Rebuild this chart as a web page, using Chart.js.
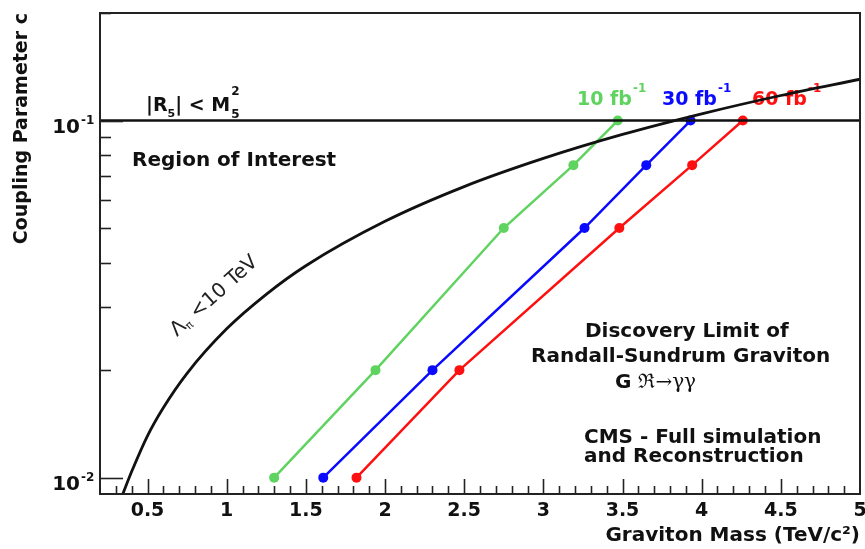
<!DOCTYPE html>
<html><head><meta charset="utf-8">
<script src="https://cdn.jsdelivr.net/npm/chart.js@4.4.1/dist/chart.umd.min.js"></script>
<style>html,body{margin:0;padding:0;background:#fff;} canvas{display:block;}</style>
</head><body>
<canvas id="c" width="865" height="549"></canvas>
<script>
// ---- data ----
const couplingPoints = [0.01, 0.02, 0.05, 0.075, 0.1];
const massGreen10 = [1.30, 1.94, 2.75, 3.19, 3.47];
const massBlue30  = [1.61, 2.30, 3.26, 3.65, 3.93];
const massRed60   = [1.82, 2.47, 3.48, 3.94, 4.26];
const lambdaMass     = [0.34, 0.4, 0.5, 0.6, 0.75, 1.0, 1.25, 1.5, 2.0, 2.5, 3.0, 3.5, 4.0, 4.5, 5.0];
const lambdaCoupling = [0.0089, 0.0104, 0.0131, 0.0157, 0.0196, 0.0261, 0.0326, 0.0392, 0.0522, 0.0653, 0.0783, 0.0914, 0.1044, 0.1175, 0.1305];
const boundMass     = [0.2, 5.0];
const boundCoupling = [0.1, 0.1];
const xTickValues = [0.5, 1, 1.5, 2, 2.5, 3, 3.5, 4, 4.5, 5];
const xTickLabels = ['0.5', '1', '1.5', '2', '2.5', '3', '3.5', '4', '4.5', '5'];
const yTickValues = [0.01, 0.1];
const yTickBase = ['10', '10'];
const yTickExp  = ['-2', '-1'];
const seriesLabels = ['10 fb', '30 fb', '60 fb'];

const FONT = '"DejaVu Sans", "Liberation Sans", sans-serif';
const GREEN = '#5fd35f', BLUE = '#0a0aff', RED = '#ff1010', INK = '#111';

function pts(xs, ys) { return xs.map((x, i) => ({x: x, y: ys[i]})); }

function seq(ctx, x, y, parts) {
  let cx = x;
  for (const p of parts) {
    ctx.font = p[1];
    ctx.fillText(p[0], cx, y + (p[2] || 0));
    cx += ctx.measureText(p[0]).width;
  }
  return cx;
}

const decorPlugin = {
  id: 'decor',
  beforeDatasetsDraw(chart) {
    const ctx = chart.ctx;
    ctx.save();
    ctx.textAlign = 'left';
    ctx.textBaseline = 'alphabetic';
    ctx.fillStyle = INK;
    let x = seq(ctx, 146, 111, [['|R', 'bold 19px ' + FONT], ['5', 'bold 11px ' + FONT, 6], ['| < M', 'bold 19px ' + FONT]]);
    ctx.font = 'bold 12px ' + FONT;
    ctx.fillText('2', x + 1, 95);
    ctx.fillText('5', x + 1, 118);
    ctx.font = 'bold 20px ' + FONT;
    ctx.fillText('Region of Interest', 132, 166);
    const cols = [GREEN, BLUE, RED];
    const xs = [577, 662, 752];
    for (let i = 0; i < 3; i++) {
      ctx.fillStyle = cols[i];
      const e = seq(ctx, xs[i], 105, [[seriesLabels[i], 'bold 19px ' + FONT]]);
      ctx.font = 'bold 12px ' + FONT;
      ctx.fillText('-1', e + 1, 92);
    }
    ctx.fillStyle = INK;
    ctx.font = 'bold 20px ' + FONT;
    ctx.fillText('Discovery Limit of', 585, 337);
    ctx.fillText('Randall-Sundrum Graviton', 531, 362);
    seq(ctx, 615, 388, [['G ', 'bold 20px ' + FONT], ['\u211C\u2192\u03B3\u03B3', '20px "DejaVu Serif", serif']]);
    ctx.font = 'bold 20px ' + FONT;
    ctx.fillText('CMS - Full simulation', 584, 443);
    ctx.fillText('and Reconstruction', 584, 462);
    ctx.save();
    ctx.translate(177, 337);
    ctx.rotate(-42 * Math.PI / 180);
    ctx.fillStyle = '#222';
    seq(ctx, 0, 0, [['\u039B', '20px ' + FONT], ['\u03C0', '11px ' + FONT, 3], [' <10 TeV', '20px ' + FONT]]);
    ctx.restore();
    ctx.restore();
  },
  afterDatasetsDraw(chart) {
    const ctx = chart.ctx;
    const a = chart.chartArea;
    const xs = chart.scales.x, ys = chart.scales.y;
    ctx.save();
    ctx.strokeStyle = '#222';
    ctx.lineWidth = 1.6;
    for (let k = 3; k < 50; k++) {
      const v = k / 10;
      const px = Math.round(xs.getPixelForValue(v)) + 0.5;
      const len = (k % 5 === 0) ? 15 : 8;
      ctx.beginPath(); ctx.moveTo(px, a.bottom); ctx.lineTo(px, a.bottom - len); ctx.stroke();
    }
    for (let d = -2; d <= -1; d++) {
      for (let m = 1; m <= 9; m++) {
        const v = m * Math.pow(10, d);
        if (v < ys.min || v > ys.max) continue;
        const py = Math.round(ys.getPixelForValue(v)) + 0.5;
        const len = (m === 1) ? 23 : 11;
        ctx.beginPath(); ctx.moveTo(a.left, py); ctx.lineTo(a.left + len, py); ctx.stroke();
      }
    }
    ctx.lineWidth = 2;
    ctx.strokeRect(a.left, a.top, a.right - a.left, a.bottom - a.top);
    ctx.fillStyle = INK;
    ctx.textBaseline = 'alphabetic';
    for (let i = 0; i < yTickValues.length; i++) {
      const py = ys.getPixelForValue(yTickValues[i]);
      ctx.textAlign = 'right';
      ctx.font = 'bold 20px ' + FONT;
      ctx.fillText(yTickBase[i], 80, py + 12);
      ctx.textAlign = 'left';
      ctx.font = 'bold 12px ' + FONT;
      ctx.fillText(yTickExp[i], 81, py + 3);
    }
    ctx.restore();
  }
};

new Chart(document.getElementById('c'), {
  type: 'scatter',
  data: {
    datasets: [
      { label: '|R5| < M5^2', data: pts(boundMass, boundCoupling), showLine: true, borderColor: '#111', borderWidth: 2.5, pointRadius: 0 },
      { label: 'Λπ < 10 TeV', data: pts(lambdaMass, lambdaCoupling), showLine: true, borderColor: '#111', borderWidth: 2.8, pointRadius: 0, cubicInterpolationMode: 'monotone' },
      { label: '10 fb-1', data: pts(massGreen10, couplingPoints), showLine: true, borderColor: GREEN, backgroundColor: GREEN, borderWidth: 2.5, pointRadius: 5, pointBorderWidth: 0 },
      { label: '30 fb-1', data: pts(massBlue30, couplingPoints), showLine: true, borderColor: BLUE, backgroundColor: BLUE, borderWidth: 2.5, pointRadius: 5, pointBorderWidth: 0 },
      { label: '60 fb-1', data: pts(massRed60, couplingPoints), showLine: true, borderColor: RED, backgroundColor: RED, borderWidth: 2.5, pointRadius: 5, pointBorderWidth: 0 }
    ]
  },
  options: {
    responsive: false,
    animation: false,
    layout: { padding: { left: 0, top: 13, right: 3, bottom: 0 } },
    plugins: { legend: { display: false }, tooltip: { enabled: false } },
    scales: {
      x: {
        type: 'linear', min: 0.2, max: 5,
        grid: { display: false, drawTicks: false }, border: { display: false },
        afterBuildTicks(s) { s.ticks = xTickValues.map(v => ({ value: v })); },
        afterFit(s) { s.height = 55; s.paddingLeft = 0; s.paddingRight = 0; },
        ticks: {
          autoSkip: false, maxRotation: 0, padding: 6, color: INK,
          font: { family: FONT, size: 19, weight: 'bold' },
          callback(v, i) { return xTickLabels[i]; }
        },
        title: { display: true, text: 'Graviton Mass (TeV/c²)', align: 'end', color: INK,
          font: { family: FONT, size: 20, weight: 'bold' }, padding: { top: 0, bottom: 1 } }
      },
      y: {
        type: 'logarithmic', min: 0.009, max: 0.2,
        grid: { display: false, drawTicks: false }, border: { display: false },
        afterBuildTicks(s) { s.ticks = yTickValues.map(v => ({ value: v })); },
        afterFit(s) { s.width = 100; s.paddingTop = 0; s.paddingBottom = 0; },
        ticks: { display: false },
        title: { display: true, text: 'Coupling Parameter c', align: 'end', color: INK,
          font: { family: FONT, size: 19, weight: 'bold' }, padding: { top: 11, bottom: 0 } }
      }
    }
  },
  plugins: [decorPlugin]
});
</script>
</body></html>
